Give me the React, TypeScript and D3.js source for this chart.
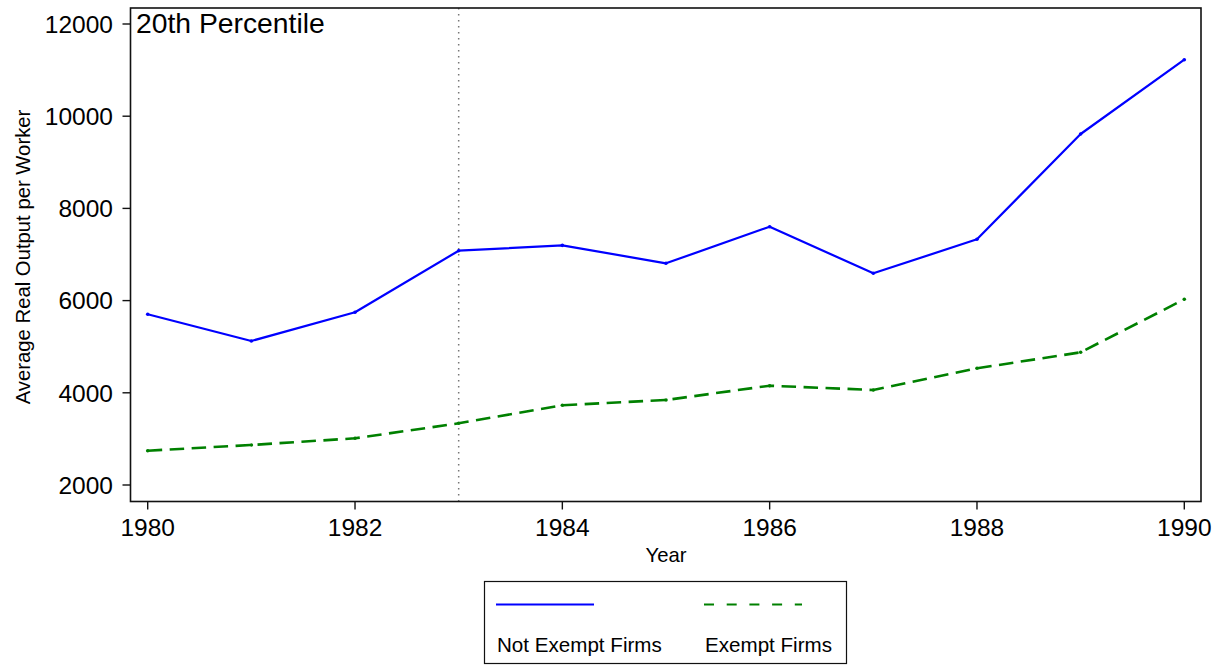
import React from "react";
import * as d3 from "d3";

// Years on the x axis
const years: number[] = [1980, 1981, 1982, 1983, 1984, 1985, 1986, 1987, 1988, 1989, 1990];
// Average real output per worker, 20th percentile
const notExempt: number[] = [5703, 5124, 5746, 7082, 7199, 6809, 7603, 6592, 7330, 9614, 11226];
const exempt: number[] = [2744, 2868, 3013, 3338, 3729, 3844, 4154, 4061, 4531, 4878, 6028];
// Axis ticks
const yTicks: number[] = [2000, 4000, 6000, 8000, 10000, 12000];
const xTicks: number[] = [1980, 1982, 1984, 1986, 1988, 1990];
const policyYear = 1983;

const W = 1228;
const H = 665;
const frame = { left: 130.5, right: 1201, top: 8, bottom: 501.5 };
const font = "Arial, 'Liberation Sans', Helvetica, sans-serif";

export default function App() {
  const x = d3.scaleLinear().domain([1980, 1990]).range([147.7, 1184.3]);
  const y = d3.scaleLinear().domain([2000, 12000]).range([485, 24]);

  const line = d3
    .line<number>()
    .x((_, i) => x(years[i]))
    .y((d) => y(d));

  const legendY = 604.5;

  return (
    <svg
      width={W}
      height={H}
      viewBox={`0 0 ${W} ${H}`}
      style={{ position: "absolute", left: 0, top: 0, display: "block", background: "#fff" }}
      fontFamily={font}
    >
      <rect x={0} y={0} width={W} height={H} fill="#fff" />

      {/* policy year marker */}
      <line
        x1={x(policyYear)}
        x2={x(policyYear)}
        y1={frame.top}
        y2={frame.bottom}
        stroke="#777"
        strokeWidth={1.5}
        strokeDasharray="1.5 4.5"
      />

      {/* series */}
      <path d={line(exempt) ?? ""} fill="none" stroke="#008000" strokeWidth={2.6} strokeDasharray="14.5 7.5" />
      <path d={line(notExempt) ?? ""} fill="none" stroke="#0000ff" strokeWidth={2.2} strokeLinejoin="round" />
      {notExempt.map((v, i) => (
        <circle key={`n${i}`} cx={x(years[i])} cy={y(v)} r={1.8} fill="#0000ff" />
      ))}
      {exempt.map((v, i) => (
        <circle key={`e${i}`} cx={x(years[i])} cy={y(v)} r={1.8} fill="#008000" />
      ))}

      {/* plot frame */}
      <rect
        x={frame.left}
        y={frame.top}
        width={frame.right - frame.left}
        height={frame.bottom - frame.top}
        fill="none"
        stroke="#111"
        strokeWidth={1.6}
      />

      {/* y axis */}
      {yTicks.map((t) => (
        <g key={`y${t}`}>
          <line x1={frame.left - 8} x2={frame.left} y1={y(t)} y2={y(t)} stroke="#111" strokeWidth={1.4} />
          <text x={113} y={y(t)} dy="0.36em" textAnchor="end" fontSize={24.5} fill="#000">
            {t}
          </text>
        </g>
      ))}

      {/* x axis */}
      {xTicks.map((t) => (
        <g key={`x${t}`}>
          <line x1={x(t)} x2={x(t)} y1={frame.bottom} y2={frame.bottom + 8} stroke="#111" strokeWidth={1.4} />
          <text x={x(t)} y={536} textAnchor="middle" fontSize={24.5} fill="#000">
            {t}
          </text>
        </g>
      ))}

      {/* panel title */}
      <text x={136} y={33} fontSize={28.3} fill="#000">
        20th Percentile
      </text>

      {/* axis titles */}
      <text
        transform={`translate(29.5, 257) rotate(-90)`}
        textAnchor="middle"
        fontSize={20.3}
        fill="#000"
      >
        Average Real Output per Worker
      </text>
      <text x={666} y={561.5} textAnchor="middle" fontSize={20.3} fill="#000">
        Year
      </text>

      {/* legend */}
      <rect x={484.5} y={581.5} width={362} height={82} fill="#fff" stroke="#111" strokeWidth={1.2} />
      <line x1={496} x2={594} y1={legendY} y2={legendY} stroke="#0000ff" strokeWidth={2.2} />
      <line x1={704} x2={802} y1={legendY} y2={legendY} stroke="#008000" strokeWidth={2.2} strokeDasharray="10 12.7" />
      <text x={497} y={652} fontSize={20.6} fill="#000">
        Not Exempt Firms
      </text>
      <text x={705} y={652} fontSize={20.6} fill="#000">
        Exempt Firms
      </text>
    </svg>
  );
}
